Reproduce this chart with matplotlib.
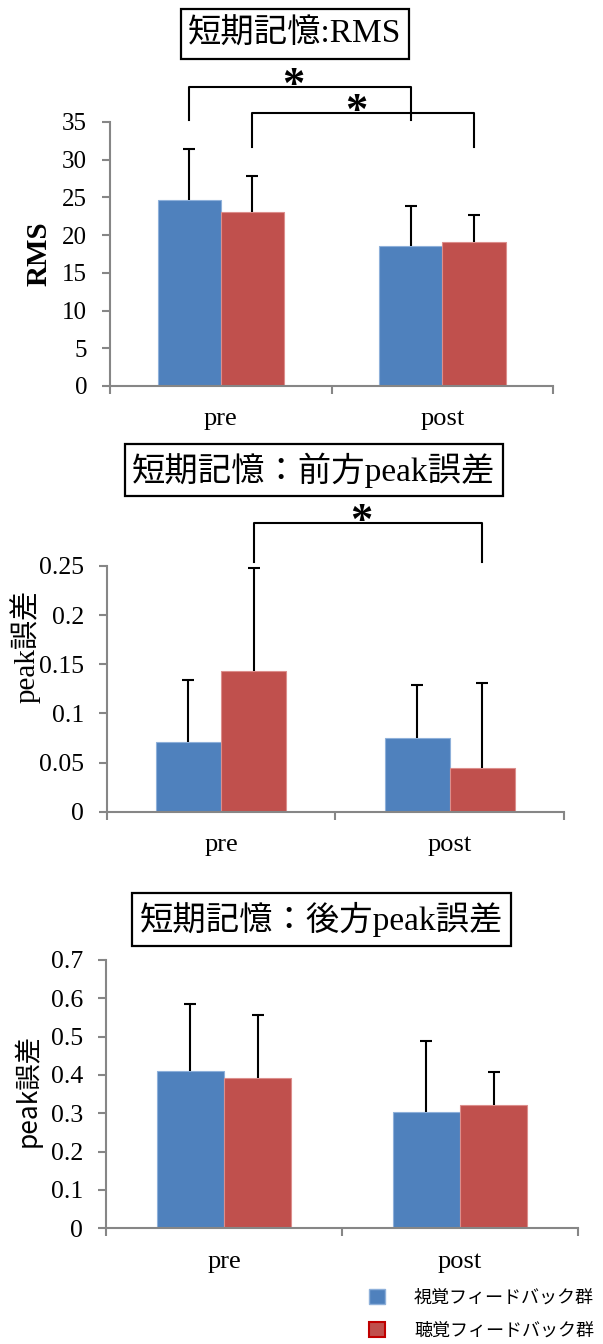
import numpy as np
import matplotlib
matplotlib.use('Agg')
import matplotlib.pyplot as plt
from matplotlib.patches import Rectangle, Patch

# data (mean and +SD)
phases = ['pre', 'post']
groups = ['視覚フィードバック群', '聴覚フィードバック群']

rms_visual = [24.6, 18.6]
rms_visual_sd = [6.8, 5.2]
rms_audio = [23.1, 19.1]
rms_audio_sd = [4.75, 3.6]

front_visual = [0.0705, 0.0753]
front_visual_sd = [0.0636, 0.0537]
front_audio = [0.1429, 0.0445]
front_audio_sd = [0.105, 0.0865]

back_visual = [0.411, 0.303]
back_visual_sd = [0.174, 0.186]
back_audio = [0.393, 0.322]
back_audio_sd = [0.163, 0.087]

W, H = 603, 1344
BLUE = '#4F81BD'
RED = '#C0504D'
GRAY = '#868686'
SERIF = ['Liberation Serif', 'Noto Sans CJK JP']
SANS = ['Noto Sans CJK JP', 'DejaVu Sans']
BAR_W = 0.285

fig = plt.figure(figsize=(W / 100, H / 100), dpi=100)


def px_axes(left, top, right, bottom):
    # axes box given in image pixels
    return fig.add_axes([left / W, 1 - bottom / H, (right - left) / W, (bottom - top) / H])


def title_box(text, cx, cy, x0, y0, x1, y1, size):
    fig.patches.append(Rectangle((x0 / W, 1 - y1 / H), (x1 - x0) / W, (y1 - y0) / H,
                                 transform=fig.transFigure, fill=False, ec='black', lw=1.6))
    fig.text(cx / W, 1 - cy / H, text, ha='center', va='center', fontsize=size, family=SERIF)


def upper_err(ax, xs, vals, sds):
    # only the upper whisker with one cap, like the excel chart
    tops = np.array(vals) + np.array(sds)
    ax.vlines(xs, vals, tops, color='black', lw=1.5, zorder=3)
    ax.plot(xs, tops, ls='none', marker='_', ms=8.6, mew=1.5, color='black', zorder=3)


def draw_panel(ax, vis, vis_sd, aud, aud_sd, ymax, ystep, tick_size):
    x = np.arange(len(phases))
    ax.bar(x - BAR_W / 2, vis, BAR_W, color=BLUE, edgecolor='#8eb0da', linewidth=0.8)
    ax.bar(x + BAR_W / 2, aud, BAR_W, color=RED, edgecolor='#dc8e8c', linewidth=0.8)
    upper_err(ax, x - BAR_W / 2, vis, vis_sd)
    upper_err(ax, x + BAR_W / 2, aud, aud_sd)

    ax.set_xlim(-0.5, len(phases) - 0.5)
    ax.set_ylim(0, ymax)
    ax.set_yticks(np.arange(0, ymax + ystep / 2, ystep))
    ax.yaxis.set_major_formatter(matplotlib.ticker.FuncFormatter(lambda v, p: f'{v:g}'))
    ax.set_xticks(x)
    ax.set_xticklabels(phases)
    ax.set_xticks(np.arange(-0.5, len(phases)), minor=True)

    for s in ['top', 'right']:
        ax.spines[s].set_visible(False)
    for s in ['left', 'bottom']:
        ax.spines[s].set_color(GRAY)
        ax.spines[s].set_linewidth(1.5)

    ax.tick_params(axis='y', length=5.5, width=1.5, color=GRAY, pad=11, labelsize=tick_size)
    ax.tick_params(axis='x', which='major', length=0, pad=16, labelsize=19)
    ax.tick_params(axis='x', which='minor', length=5.5, width=1.5, color=GRAY)
    for lab in ax.get_xticklabels() + ax.get_yticklabels():
        lab.set_family(SERIF)
    return x


def bracket(ax, x1, x2, top, b1, b2):
    ax.plot([x1, x1, x2, x2], [b1, top, top, b2], color='black', lw=1.5, clip_on=False)
    ax.annotate('*', xy=((x1 + x2) / 2, top), xytext=(-4.7, -7), textcoords='offset points',
                ha='center', va='baseline', fontsize=32, fontweight='bold', family=SERIF,
                annotation_clip=False)


# panel 1 : RMS
ax1 = px_axes(110, 122, 553.3, 386)
x = draw_panel(ax1, rms_visual, rms_visual_sd, rms_audio, rms_audio_sd, 35, 5, 18)
bracket(ax1, x[0] - BAR_W / 2, x[1] - BAR_W / 2, 39.6, 35.2, 35.2)
bracket(ax1, x[0] + BAR_W / 2, x[1] + BAR_W / 2, 36.15, 31.7, 31.7)
title_box('短期記憶:RMS', 295, 34, 181, 9, 409, 59, 24)
fig.text(38.8 / W, 1 - 254 / H, 'RMS', rotation=90, ha='center', va='center',
         fontsize=21, fontweight='bold', family=SERIF)

# panel 2 : front peak error
ax2 = px_axes(106.7, 566, 564, 811.7)
x = draw_panel(ax2, front_visual, front_visual_sd, front_audio, front_audio_sd, 0.25, 0.05, 18.5)
bracket(ax2, x[0] + BAR_W / 2, x[1] + BAR_W / 2, 0.2934, 0.2544, 0.2544)
title_box('短期記憶：前方peak誤差', 313.7, 470, 124.8, 444, 502.7, 496, 24)
fig.text(25 / W, 1 - 646.5 / H, 'peak誤差', rotation=90, ha='center', va='center',
         fontsize=21, family=SERIF)

# panel 3 : back peak error
ax3 = px_axes(106, 960, 577.9, 1228.3)
x = draw_panel(ax3, back_visual, back_visual_sd, back_audio, back_audio_sd, 0.7, 0.1, 18.5)
title_box('短期記憶：後方peak誤差', 321.3, 919.2, 131.7, 892.7, 510.9, 945.7, 24)
fig.text(27 / W, 1 - 1090.5 / H, 'peak誤差', rotation=90, ha='center', va='center',
         fontsize=19, family=SANS)

# legend
handles = [Patch(facecolor=BLUE, edgecolor='#8eb0da', linewidth=1),
           Patch(facecolor=RED, edgecolor='#C00000', linewidth=1.5)]
fig.legend(handles, groups, loc='upper left', bbox_to_anchor=(369 / W, 1 - 1289 / H),
           frameon=False, borderpad=0, borderaxespad=0, handlelength=0.9, handleheight=0.9,
           handletextpad=1.6, labelspacing=0.8, prop={'family': SANS, 'size': 13})

fig.savefig('out.png', dpi=100)
